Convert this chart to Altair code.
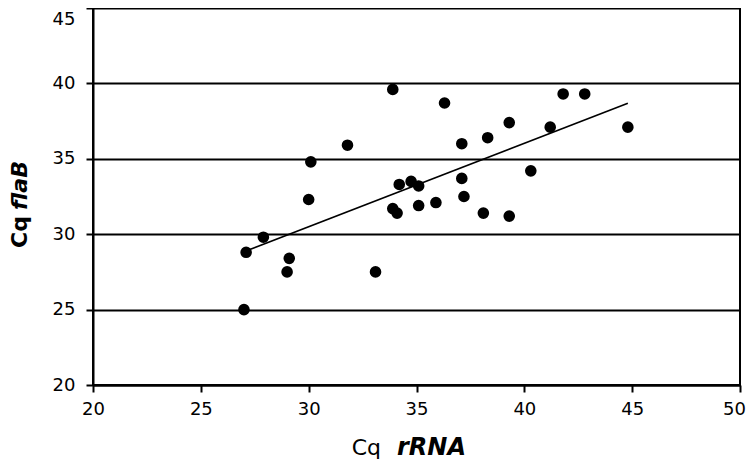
import altair as alt
import pandas as pd

cq_rrna = [27.0, 27.1, 27.9, 29.1, 29.0, 33.1, 30.1, 30.0, 31.8, 33.9,
           36.3, 37.1, 38.3, 39.3, 41.2, 41.8, 42.8, 44.8, 40.3, 37.1,
           37.2, 38.1, 39.3, 35.9, 35.1, 33.9, 34.1, 34.2, 34.75, 35.1]
cq_flab = [25.0, 28.8, 29.8, 28.4, 27.5, 27.5, 34.8, 32.3, 35.9, 39.6,
           38.7, 36.0, 36.4, 37.4, 37.1, 39.3, 39.3, 37.1, 34.2, 33.7,
           32.5, 31.4, 31.2, 32.1, 31.9, 31.7, 31.4, 33.3, 33.5, 33.2]
x_ticks = [20, 25, 30, 35, 40, 45, 50]
y_ticks = [20, 25, 30, 35, 40, 45]

df = pd.DataFrame({"rRNA": cq_rrna, "flaB": cq_flab})

W, H = 647, 377
FONT = "DejaVu Sans"

xs = alt.X("rRNA:Q", scale=alt.Scale(domain=[20, 50], nice=False, zero=False),
           axis=alt.Axis(values=x_ticks, grid=False, title=None, labelFontSize=18,
                         labelPadding=8, tickSize=7, labelFlush=False,
                         labelOffset={"condition": {"test": "datum.value == 50", "value": -6},
                                      "value": 0}))
ys = alt.Y("flaB:Q", scale=alt.Scale(domain=[20, 45], nice=False, zero=False),
           axis=alt.Axis(values=y_ticks, grid=True, title=None, labelFontSize=18,
                         labelPadding=11, tickSize=7, labelFlush=False,
                         labelOffset={"condition": {"test": "datum.value == 45", "value": 11},
                                      "value": 0}))

base = alt.Chart(df)
points = base.mark_circle(size=135, color="black", opacity=1).encode(x=xs, y=ys)
trend = base.transform_regression("rRNA", "flaB").mark_line(
    color="black", strokeWidth=1.6).encode(x=xs, y=ys)

tdf = pd.DataFrame({"a": [0]})
tx1 = alt.Chart(tdf).mark_text(text="Cq", font=FONT, fontSize=22, fontWeight="normal",
                               align="right", baseline="alphabetic", color="black").encode(
    x=alt.value(288), y=alt.value(447))
tx2 = alt.Chart(tdf).mark_text(text="rRNA", font=FONT, fontSize=24, fontWeight="bold",
                               fontStyle="italic", align="left", baseline="alphabetic",
                               color="black").encode(x=alt.value(304), y=alt.value(447))
ty1 = alt.Chart(tdf).mark_text(text="Cq", font=FONT, fontSize=22, fontWeight="bold",
                               align="left", baseline="middle", angle=270,
                               color="black").encode(x=alt.value(-73), y=alt.value(240))
ty2 = alt.Chart(tdf).mark_text(text="flaB", font=FONT, fontSize=22, fontWeight="bold",
                               fontStyle="italic", align="left", baseline="middle", angle=270,
                               color="black").encode(x=alt.value(-73), y=alt.value(202))

chart = alt.layer(points, trend, tx1, tx2, ty1, ty2).properties(
    width=W, height=H,
    autosize=alt.AutoSizeParams(type="none"),
    padding={"left": 85, "top": 0, "right": 6, "bottom": 76},
).configure(
    background="white"
).configure_view(
    stroke="black", strokeWidth=2
).configure_axis(
    domainColor="black", domainWidth=2, tickColor="black", tickWidth=2,
    gridColor="black", gridWidth=2, gridOpacity=1,
    labelColor="black", labelFont=FONT
)

chart.save("out.html", embed_options={"renderer": "svg", "actions": False})
